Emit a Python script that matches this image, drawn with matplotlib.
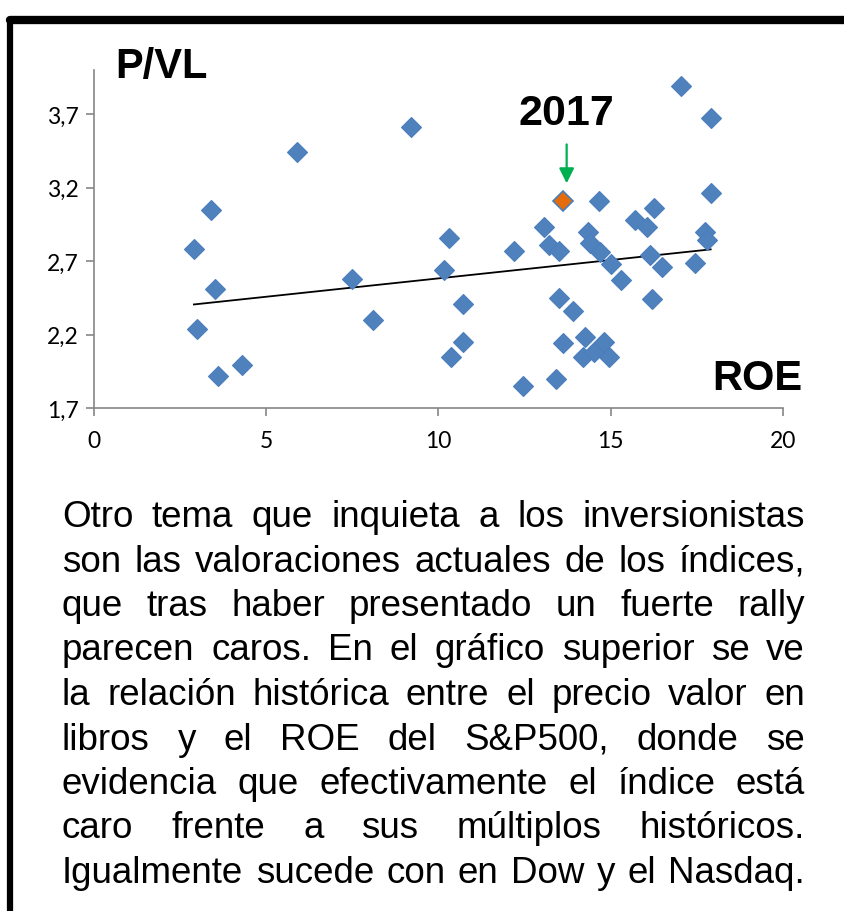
import numpy as np
import matplotlib
matplotlib.use("Agg")
import matplotlib.pyplot as plt
from matplotlib.lines import Line2D
from matplotlib.font_manager import FontProperties

# ROE vs P/VL (S&P500, historico); the 2017 point is marked apart
roe = [2.9, 3.0, 3.4, 3.5, 3.6, 4.3, 5.9, 7.5, 8.1, 9.2,
       10.15, 10.3, 10.35, 10.7, 10.7, 12.2, 12.45, 13.05, 13.2, 13.4,
       13.5, 13.5, 13.6, 13.9, 14.25, 14.2, 14.35, 14.4, 14.5, 14.65,
       14.7, 14.8, 14.95, 15.0, 15.3, 15.7, 16.05, 16.15, 16.2, 16.25,
       16.5, 17.05, 17.45, 17.75, 17.8, 17.9, 17.9]
pvl = [2.78, 2.24, 3.05, 2.51, 1.92, 1.99, 3.44, 2.58, 2.30, 3.61,
       2.64, 2.86, 2.05, 2.41, 2.15, 2.77, 1.85, 2.93, 2.81, 1.90,
       2.77, 2.45, 2.14, 2.36, 2.18, 2.05, 2.90, 2.82, 2.08, 3.11,
       2.76, 2.15, 2.05, 2.68, 2.57, 2.98, 2.93, 2.74, 2.44, 3.06,
       2.66, 3.89, 2.69, 2.90, 2.84, 3.67, 3.16]
roe_2017 = 13.6
pvl_2017 = 3.11

yticks = [1.7, 2.2, 2.7, 3.2, 3.7]
ytick_labels = ["1,7", "2,2", "2,7", "3,2", "3,7"]
xticks = [0, 5, 10, 15, 20]

lines = [
    "Otro tema que inquieta a los inversionistas",
    "son las valoraciones actuales de los índices,",
    "que tras haber presentado un fuerte rally",
    "parecen caros. En el gráfico superior se ve",
    "la relación histórica entre el precio valor en",
    "libros y el ROE del S&P500, donde se",
    "evidencia que efectivamente el índice está",
    "caro frente a sus múltiplos históricos.",
    "Igualmente sucede con en Dow y el Nasdaq.",
]

W, H = 845, 912
fig = plt.figure(figsize=(W / 100, H / 100), dpi=100)
fig.patch.set_facecolor("white")

ax = fig.add_axes([94 / W, 1 - 409 / H, 689 / W, 338 / H])
blue = "#4F81BD"
edge = "#4A7EBB"
gray = "#868686"

all_x = np.array(roe + [roe_2017])
all_y = np.array(pvl + [pvl_2017])
k, b = np.polyfit(all_x, all_y, 1)
xs = np.array([all_x.min(), all_x.max()])
ax.plot(xs, k * xs + b, color="black", lw=1.3, zorder=2)

ax.plot(roe, pvl, "D", color=blue, mec=edge, mew=0.8, ms=10, zorder=3, ls="none")
ax.plot([roe_2017], [pvl_2017], "D", color="#E46C0A", mec=edge, mew=1.2, ms=10, zorder=4)

ax.set_xlim(0, 20)
ax.set_ylim(1.7, 4.0)
ax.set_xticks(xticks)
ax.set_xticklabels([str(v) for v in xticks])
ax.set_yticks(yticks)
ax.set_yticklabels(ytick_labels)
for s in ["top", "right"]:
    ax.spines[s].set_visible(False)
for s in ["left", "bottom"]:
    ax.spines[s].set_color(gray)
    ax.spines[s].set_linewidth(1.2)
ax.tick_params(colors=gray, length=6, width=1.2, labelcolor="black",
               labelsize=16.5)
ax.tick_params(axis="x", pad=10)
ax.tick_params(axis="y", pad=5)
for lab in ax.get_xticklabels() + ax.get_yticklabels():
    lab.set_family("Lato")

# arrow and label for 2017
ax.annotate("", xy=(roe_2017 + 0.12, pvl_2017 + 0.1), xytext=(0, 32),
            textcoords="offset points",
            arrowprops=dict(arrowstyle="-|>,head_length=0.9,head_width=0.45",
                            color="#00B050", lw=1.6))
ax.annotate("2017", xy=(roe_2017 + 0.12, pvl_2017), xytext=(0, 55),
            textcoords="offset points", ha="center", va="baseline",
            fontsize=31, fontweight="bold", family="Liberation Sans")

fig.text(115 / W, 1 - 78 / H, "P/VL", fontsize=30, fontweight="bold",
         family="Liberation Sans", va="baseline")
fig.text(712 / W, 1 - 390 / H, "ROE", fontsize=30, fontweight="bold",
         family="Liberation Sans", va="baseline")

# frame
fig.add_artist(Line2D([10 / W, 1.0], [1 - 21 / H, 1 - 21 / H], color="black",
                      lw=6.0, solid_capstyle="round", transform=fig.transFigure))
fig.add_artist(Line2D([10 / W, 10 / W], [0, 1 - 21 / H], color="black",
                      lw=4.5, solid_capstyle="round", transform=fig.transFigure))

# justified paragraph
fp = FontProperties(family="Liberation Sans", size=26.5)
renderer = fig.canvas.get_renderer()
left, right = 62, 805
base0, step = 527, 44.5
for i, line in enumerate(lines):
    words = line.split(" ")
    widths = [renderer.get_text_width_height_descent(w, fp, ismath=False)[0]
              for w in words]
    gap = (right - left - sum(widths)) / (len(words) - 1)
    x = left
    y = base0 + i * step
    for w, wd in zip(words, widths):
        fig.text(x / W, 1 - y / H, w, fontproperties=fp, va="baseline", ha="left")
        x += wd + gap

fig.savefig("out.png", dpi=100)
